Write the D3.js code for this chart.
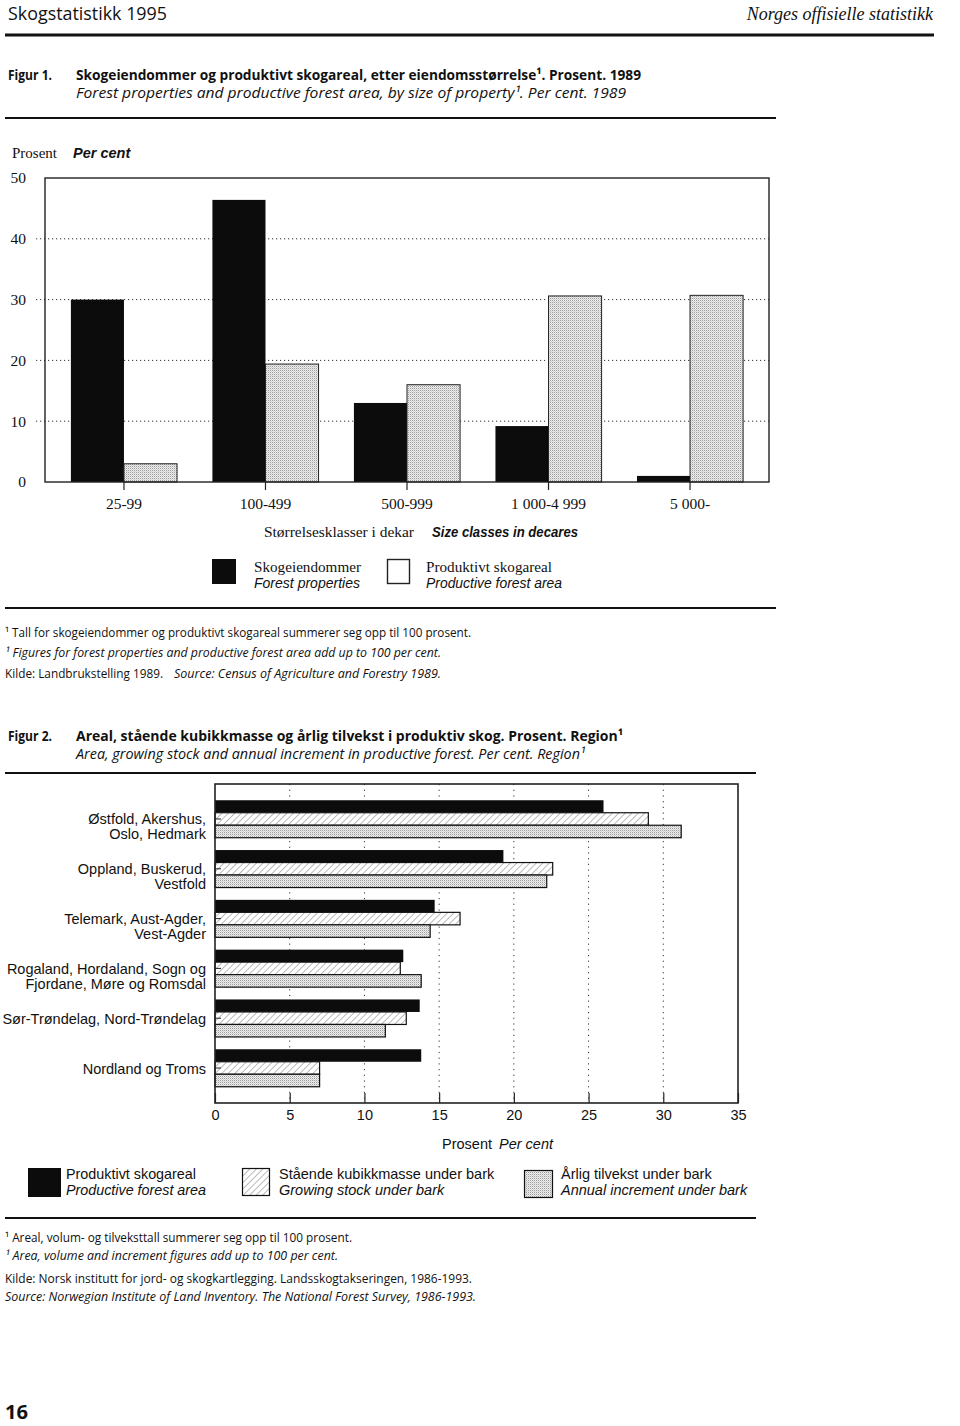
<!DOCTYPE html>
<html><head><meta charset="utf-8">
<script src="https://cdn.jsdelivr.net/npm/d3@7"></script>
<style>body{margin:0;background:#fff}svg{display:block}</style>
</head><body>
<svg id="c" width="960" height="1426"></svg>
<script>
// ---------- Figure 1 data ----------
const fig1Categories = ["25-99", "100-499", "500-999", "1 000-4 999", "5 000-"];
const fig1Properties = [30.0, 46.4, 13.0, 9.2, 1.0];   // Skogeiendommer
const fig1Area = [3.0, 19.4, 16.0, 30.6, 30.7];         // Produktivt skogareal
const fig1YTicks = [0, 10, 20, 30, 40, 50];
const fig1GridTicks = [10, 20, 30, 40];

// ---------- Figure 2 data ----------
const fig2Regions = [
  "Østfold, Akershus,\nOslo, Hedmark",
  "Oppland, Buskerud,\nVestfold",
  "Telemark, Aust-Agder,\nVest-Agder",
  "Rogaland, Hordaland, Sogn og\nFjordane, Møre og Romsdal",
  "Sør-Trøndelag, Nord-Trøndelag",
  "Nordland og Troms"
];
const fig2Area = [26.0, 19.3, 14.7, 12.6, 13.7, 13.8];       // Produktivt skogareal
const fig2Stock = [29.0, 22.6, 16.4, 12.4, 12.8, 7.0];       // Stående kubikkmasse
const fig2Increment = [31.2, 22.2, 14.4, 13.8, 11.4, 7.0];   // Årlig tilvekst
const fig2XTicks = [0, 5, 10, 15, 20, 25, 30, 35];
const fig2GridTicks = [5, 10, 15, 20, 25, 30];

const SERIF = "'Liberation Serif', 'Times New Roman', serif";
const SANS = "'Liberation Sans', Arial, Helvetica, sans-serif";
const COND = "'Open Sans', 'Noto Sans', sans-serif";
const INK = "#111";

const svg = d3.select("#c");
const defs = svg.append("defs");

// halftone grey
const ht = defs.append("pattern").attr("id", "halftone").attr("patternUnits", "userSpaceOnUse")
  .attr("width", 2).attr("height", 2);
ht.append("rect").attr("width", 2).attr("height", 2).attr("fill", "#eeeeee");
ht.append("rect").attr("width", 1).attr("height", 1).attr("fill", "#9c9c9c");
ht.append("rect").attr("x", 1).attr("y", 1).attr("width", 1).attr("height", 1).attr("fill", "#cfcfcf");

// diagonal hatch
const hp = defs.append("pattern").attr("id", "hatch").attr("patternUnits", "userSpaceOnUse")
  .attr("width", 4.6).attr("height", 4.6).attr("patternTransform", "rotate(45)");
hp.append("rect").attr("width", 4.6).attr("height", 4.6).attr("fill", "#fff");
hp.append("line").attr("x1", 0).attr("y1", 0).attr("x2", 0).attr("y2", 4.6)
  .attr("stroke", "#666").attr("stroke-width", 0.9);

function T(p, x, y, s, o = {}) {
  const t = p.append("text").attr("x", x).attr("y", y).text(s)
    .attr("font-family", o.f || SANS).attr("font-size", o.s || 14).attr("fill", INK);
  if (o.w) t.attr("font-weight", o.w);
  if (o.i) t.attr("font-style", "italic");
  if (o.a) t.attr("text-anchor", o.a);
  if (o.len) t.attr("textLength", o.len).attr("lengthAdjust", "spacingAndGlyphs");
  return t;
}

// ---------- Page header ----------
T(svg, 8, 20, "Skogstatistikk 1995", { f: COND, s: 19, len: 159 });
T(svg, 933, 20, "Norges offisielle statistikk", { f: SERIF, s: 18, i: true, a: "end" });
svg.append("line").attr("x1", 5).attr("x2", 934).attr("y1", 35).attr("y2", 35)
  .attr("stroke", INK).attr("stroke-width", 3);

// ---------- Figure 1 title ----------
T(svg, 8, 80, "Figur 1.", { f: COND, s: 15, w: 700, len: 44 });
T(svg, 76, 80, "Skogeiendommer og produktivt skogareal, etter eiendomsstørrelse¹. Prosent. 1989", { f: COND, s: 15, w: 700, len: 565 });
T(svg, 76, 98, "Forest properties and productive forest area, by size of property¹. Per cent. 1989", { f: COND, s: 15, i: true, len: 550 });
svg.append("line").attr("x1", 5).attr("x2", 776).attr("y1", 118).attr("y2", 118)
  .attr("stroke", INK).attr("stroke-width", 1.8);

// ---------- Figure 1 chart ----------
const f1 = { l: 45, r: 769, t: 178, b: 482 };
const x1 = d3.scaleBand().domain(fig1Categories).range([f1.l, f1.r]).paddingInner(0.25).paddingOuter(0.183);
const y1 = d3.scaleLinear().domain([0, 50]).range([f1.b, f1.t]);
const g1 = svg.append("g");

T(g1, 12, 158, "Prosent", { f: SERIF, s: 15 });
T(g1, 73, 158, "Per cent", { f: SANS, s: 14.5, i: true, w: 700 });

g1.selectAll("line.grid").data(fig1GridTicks).join("line").attr("class", "grid")
  .attr("x1", 36).attr("x2", f1.r).attr("y1", d => y1(d)).attr("y2", d => y1(d))
  .attr("stroke", "#333").attr("stroke-width", 1).attr("stroke-dasharray", "1.2,2.8");

const bw1 = x1.bandwidth() / 2;
g1.selectAll("rect.prop").data(fig1Properties).join("rect").attr("class", "prop")
  .attr("x", (d, i) => x1(fig1Categories[i])).attr("width", bw1)
  .attr("y", d => y1(d)).attr("height", d => y1(0) - y1(d)).attr("fill", "#0c0c0c");
g1.selectAll("rect.area").data(fig1Area).join("rect").attr("class", "area")
  .attr("x", (d, i) => x1(fig1Categories[i]) + bw1).attr("width", bw1)
  .attr("y", d => y1(d)).attr("height", d => y1(0) - y1(d))
  .attr("fill", "url(#halftone)").attr("stroke", "#222").attr("stroke-width", 1);

g1.append("rect").attr("x", f1.l).attr("y", f1.t).attr("width", f1.r - f1.l).attr("height", f1.b - f1.t)
  .attr("fill", "none").attr("stroke", "#222").attr("stroke-width", 1.4);

const ya1 = g1.append("g").attr("transform", `translate(${f1.l},0)`)
  .call(d3.axisLeft(y1).tickValues(fig1YTicks).tickSize(0).tickPadding(19));
ya1.select(".domain").remove();
ya1.selectAll("text").attr("font-family", SERIF).attr("font-size", 15.5).attr("fill", INK);

const xa1 = g1.append("g").attr("transform", `translate(0,${f1.b})`)
  .call(d3.axisBottom(x1).tickSize(8).tickPadding(7.5));
xa1.select(".domain").remove();
xa1.selectAll("line").attr("stroke", "#222").attr("stroke-width", 1.2);
xa1.selectAll("text").attr("font-family", SERIF).attr("font-size", 15.5).attr("fill", INK);

T(g1, 264, 537, "Størrelsesklasser i dekar", { f: SERIF, s: 15, len: 150 });
T(g1, 432, 537, "Size classes in decares", { f: SANS, s: 14.5, i: true, w: 700, len: 146 });

// legend fig 1
g1.append("rect").attr("x", 212).attr("y", 559).attr("width", 24).attr("height", 25).attr("fill", "#0c0c0c");
T(g1, 254, 572, "Skogeiendommer", { f: SERIF, s: 15, len: 107 });
T(g1, 254, 588, "Forest properties", { f: SANS, s: 14, i: true, len: 106 });
g1.append("rect").attr("x", 387.5).attr("y", 559.5).attr("width", 22).attr("height", 24)
  .attr("fill", "#fff").attr("stroke", "#222").attr("stroke-width", 1.4);
T(g1, 426, 572, "Produktivt skogareal", { f: SERIF, s: 15, len: 126 });
T(g1, 426, 588, "Productive forest area", { f: SANS, s: 14, i: true, len: 136 });

svg.append("line").attr("x1", 5).attr("x2", 776).attr("y1", 608).attr("y2", 608)
  .attr("stroke", INK).attr("stroke-width", 2);

T(svg, 5, 637, "¹ Tall for skogeiendommer og produktivt skogareal summerer seg opp til 100 prosent.", { f: COND, s: 12.5, len: 466 });
T(svg, 5, 657, "¹ Figures for forest properties and productive forest area add up to 100 per cent.", { f: COND, s: 12.5, i: true, len: 436 });
T(svg, 5, 678, "Kilde: Landbrukstelling 1989.", { f: COND, s: 12.5, len: 158 });
T(svg, 174, 678, "Source: Census of Agriculture and Forestry 1989.", { f: COND, s: 12.5, i: true, len: 267 });

// ---------- Figure 2 title ----------
T(svg, 8, 741, "Figur 2.", { f: COND, s: 15, w: 700, len: 44 });
T(svg, 76, 741, "Areal, stående kubikkmasse og årlig tilvekst i produktiv skog. Prosent. Region¹", { f: COND, s: 15, w: 700, len: 547 });
T(svg, 76, 759, "Area, growing stock and annual increment in productive forest. Per cent. Region¹", { f: COND, s: 15, i: true, len: 509 });
svg.append("line").attr("x1", 5).attr("x2", 756).attr("y1", 773).attr("y2", 773)
  .attr("stroke", INK).attr("stroke-width", 1.8);

// ---------- Figure 2 chart ----------
const f2 = { l: 215, r: 738, t: 784, b: 1103 };
const x2 = d3.scaleLinear().domain([0, 35]).range([f2.l, f2.r]);
const y2 = d3.scaleBand().domain(fig2Regions).range([f2.t, f2.b]).paddingInner(0.247).paddingOuter(0.326);
const sub = d3.scaleBand().domain(["area", "stock", "incr"]).range([0, y2.bandwidth()]);
const g2 = svg.append("g");

g2.selectAll("line.grid").data(fig2GridTicks).join("line").attr("class", "grid")
  .attr("x1", d => x2(d)).attr("x2", d => x2(d)).attr("y1", f2.t).attr("y2", f2.b)
  .attr("stroke", "#333").attr("stroke-width", 1).attr("stroke-dasharray", "1.2,4.5");

g2.selectAll("rect.area").data(fig2Area).join("rect").attr("class", "area")
  .attr("x", x2(0)).attr("y", (d, i) => y2(fig2Regions[i]) + sub("area"))
  .attr("width", d => x2(d) - x2(0)).attr("height", sub.bandwidth())
  .attr("fill", "#0c0c0c");
g2.selectAll("rect.stock").data(fig2Stock).join("rect").attr("class", "stock")
  .attr("x", x2(0)).attr("y", (d, i) => y2(fig2Regions[i]) + sub("stock"))
  .attr("width", d => x2(d) - x2(0)).attr("height", sub.bandwidth())
  .attr("fill", "url(#hatch)").attr("stroke", "#111").attr("stroke-width", 1.2);
g2.selectAll("rect.incr").data(fig2Increment).join("rect").attr("class", "incr")
  .attr("x", x2(0)).attr("y", (d, i) => y2(fig2Regions[i]) + sub("incr"))
  .attr("width", d => x2(d) - x2(0)).attr("height", sub.bandwidth())
  .attr("fill", "url(#halftone)").attr("stroke", "#111").attr("stroke-width", 1.2);

// small category ticks at left axis
g2.selectAll("line.ct").data(fig2Regions).join("line").attr("class", "ct")
  .attr("x1", f2.l).attr("x2", f2.l + 6)
  .attr("y1", d => y2(d) + y2.bandwidth() / 2).attr("y2", d => y2(d) + y2.bandwidth() / 2)
  .attr("stroke", "#222").attr("stroke-width", 1);

g2.append("rect").attr("x", f2.l).attr("y", f2.t).attr("width", f2.r - f2.l).attr("height", f2.b - f2.t)
  .attr("fill", "none").attr("stroke", "#222").attr("stroke-width", 1.6);

const xa2 = g2.append("g").attr("transform", `translate(0,${f2.b})`)
  .call(d3.axisBottom(x2).tickValues(fig2XTicks).tickSizeInner(-10).tickSizeOuter(0).tickPadding(6.5));
xa2.select(".domain").remove();
xa2.selectAll("line").attr("stroke", "#222").attr("stroke-width", 1.2);
xa2.selectAll("text").attr("font-family", SANS).attr("font-size", 14.5).attr("fill", INK);

// region labels
fig2Regions.forEach(r => {
  const lines = r.split("\n");
  const cy = y2(r) + y2.bandwidth() / 2;
  lines.forEach((ln, k) => {
    T(g2, 206, cy + 5.5 + k * 15, ln, { f: SANS, s: 14.5, a: "end" });
  });
});

T(g2, 442, 1149, "Prosent", { f: SANS, s: 14.5 });
T(g2, 499, 1149, "Per cent", { f: SANS, s: 14.5, i: true });

// legend fig 2
g2.append("rect").attr("x", 28).attr("y", 1168).attr("width", 33).attr("height", 29).attr("fill", "#0c0c0c");
T(g2, 66, 1179, "Produktivt skogareal", { f: SANS, s: 14.5, len: 130 });
T(g2, 66, 1195, "Productive forest area", { f: SANS, s: 14.5, i: true, len: 140 });
g2.append("rect").attr("x", 242.5).attr("y", 1168.5).attr("width", 27).attr("height", 27)
  .attr("fill", "url(#hatch)").attr("stroke", "#111").attr("stroke-width", 1.2);
T(g2, 279, 1179, "Stående kubikkmasse under bark", { f: SANS, s: 14.5 });
T(g2, 279, 1195, "Growing stock under bark", { f: SANS, s: 14.5, i: true });
g2.append("rect").attr("x", 524.5).attr("y", 1170.5).attr("width", 28).attr("height", 27)
  .attr("fill", "url(#halftone)").attr("stroke", "#111").attr("stroke-width", 1.2);
T(g2, 561, 1179, "Årlig tilvekst under bark", { f: SANS, s: 14.5 });
T(g2, 561, 1195, "Annual increment under bark", { f: SANS, s: 14.5, i: true });

svg.append("line").attr("x1", 5).attr("x2", 756).attr("y1", 1218).attr("y2", 1218)
  .attr("stroke", INK).attr("stroke-width", 2);

T(svg, 5, 1242, "¹ Areal, volum- og tilveksttall summerer seg opp til 100 prosent.", { f: COND, s: 12.5, len: 347 });
T(svg, 5, 1260, "¹ Area, volume and increment figures add up to 100 per cent.", { f: COND, s: 12.5, i: true, len: 333 });
T(svg, 5, 1283, "Kilde: Norsk institutt for jord- og skogkartlegging. Landsskogtakseringen, 1986-1993.", { f: COND, s: 12.5, len: 467 });
T(svg, 5, 1301, "Source: Norwegian Institute of Land Inventory. The National Forest Survey, 1986-1993.", { f: COND, s: 12.5, i: true, len: 471 });

T(svg, 5, 1419, "16", { f: COND, s: 19, w: 700, len: 23 });
</script>
</body></html>
